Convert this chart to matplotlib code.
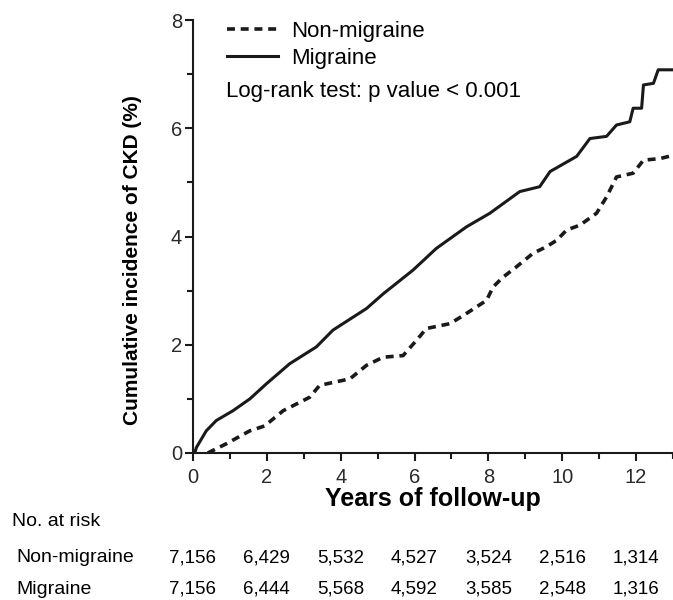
import matplotlib
matplotlib.use("Agg")
import matplotlib.pyplot as plt
from matplotlib.ticker import MultipleLocator
from matplotlib.transforms import blended_transform_factory

plt.rcParams['font.family'] = ['Liberation Sans', 'DejaVu Sans']

# cumulative incidence curves
mig_t = [0.05, 0.09, 0.36, 0.63, 1.08, 1.54, 1.99, 2.62, 3.34, 3.79, 4.70, 5.15,
         5.96, 6.59, 7.41, 8.04, 8.85, 9.39, 9.67, 10.39, 10.75, 11.2, 11.47,
         11.83, 11.92, 12.15, 12.2, 12.47, 12.6, 13.0]
mig_v = [0.0, 0.1, 0.41, 0.6, 0.78, 1.0, 1.28, 1.65, 1.96, 2.27, 2.67, 2.94,
         3.38, 3.78, 4.18, 4.43, 4.83, 4.92, 5.2, 5.48, 5.81, 5.85, 6.06,
         6.12, 6.37, 6.37, 6.8, 6.83, 7.08, 7.08]

non_t = [0.4, 0.9, 1.54, 1.94, 2.44, 3.16, 3.43, 4.25, 4.7, 5.15, 5.69, 6.05,
         6.32, 6.96, 7.32, 7.95, 8.13, 8.4, 8.76, 9.21, 9.57, 9.85, 10.12,
         10.48, 10.93, 11.2, 11.47, 11.92, 12.2, 12.65, 13.0]
non_v = [0.0, 0.17, 0.41, 0.5, 0.78, 1.03, 1.25, 1.37, 1.62, 1.77, 1.8, 2.08,
         2.3, 2.39, 2.54, 2.82, 3.07, 3.25, 3.44, 3.69, 3.81, 3.93, 4.12,
         4.21, 4.43, 4.73, 5.1, 5.17, 5.41, 5.44, 5.5]

risk_years = [0, 2, 4, 6, 8, 10, 12]
risk_non = ['7,156', '6,429', '5,532', '4,527', '3,524', '2,516', '1,314']
risk_mig = ['7,156', '6,444', '5,568', '4,592', '3,585', '2,548', '1,316']

ink = '#1a1a1a'

fig = plt.figure(figsize=(6.73, 6.0), dpi=100)
ax = fig.add_axes([193/673, 1 - 453/600, 1 - 193/673, (453 - 20)/600])

ax.plot(non_t, non_v, color=ink, lw=2.6, ls=(0, (2.2, 1.6)), label='Non-migraine')
ax.plot(mig_t, mig_v, color=ink, lw=2.2, label='Migraine')

ax.set_xlim(0, 13)
ax.set_ylim(0, 8)
ax.xaxis.set_major_locator(MultipleLocator(2))
ax.xaxis.set_minor_locator(MultipleLocator(1))
ax.yaxis.set_major_locator(MultipleLocator(2))
ax.yaxis.set_minor_locator(MultipleLocator(1))
for s in ['top', 'right']:
    ax.spines[s].set_visible(False)
for s in ['left', 'bottom']:
    ax.spines[s].set_linewidth(1.5)
    ax.spines[s].set_color(ink)
ax.tick_params(which='major', length=6, width=1.5, color=ink, labelsize=14.5,
               labelcolor='#2a2a2a')
ax.tick_params(which='minor', length=4, width=1.5, color=ink)
ax.tick_params(axis='x', pad=4.5)
ax.tick_params(axis='y', pad=2)

ax.set_xlabel('Years of follow-up', fontsize=18, fontweight='bold', labelpad=0.5)
ax.set_ylabel('Cumulative incidence of CKD (%)', fontsize=15, fontweight='bold')
ax.yaxis.set_label_coords(-0.106, 0.446)

ax.legend(loc='upper left', bbox_to_anchor=(0.071, 0.998), frameon=False,
          fontsize=16, handlelength=2.3, handletextpad=0.6, labelspacing=0.27,
          borderpad=0, borderaxespad=0)
ax.text(0.069, 0.836, 'Log-rank test: p value < 0.001', transform=ax.transAxes,
        fontsize=16, va='center', ha='left')

# number at risk table
fig.text(12/673, 1 - 522/600, 'No. at risk', fontsize=14, va='center')
fig.text(16/673, 1 - 558/600, 'Non-migraine', fontsize=14, va='center')
fig.text(16/673, 1 - 589/600, 'Migraine', fontsize=14, va='center')
tr = blended_transform_factory(ax.transData, fig.transFigure)
for yr, a, b in zip(risk_years, risk_non, risk_mig):
    ax.text(yr, 1 - 558/600, a, transform=tr, fontsize=13.5,
            ha='center', va='center', clip_on=False)
    ax.text(yr, 1 - 589/600, b, transform=tr, fontsize=13.5,
            ha='center', va='center', clip_on=False)

fig.savefig('out.png', dpi=100)
